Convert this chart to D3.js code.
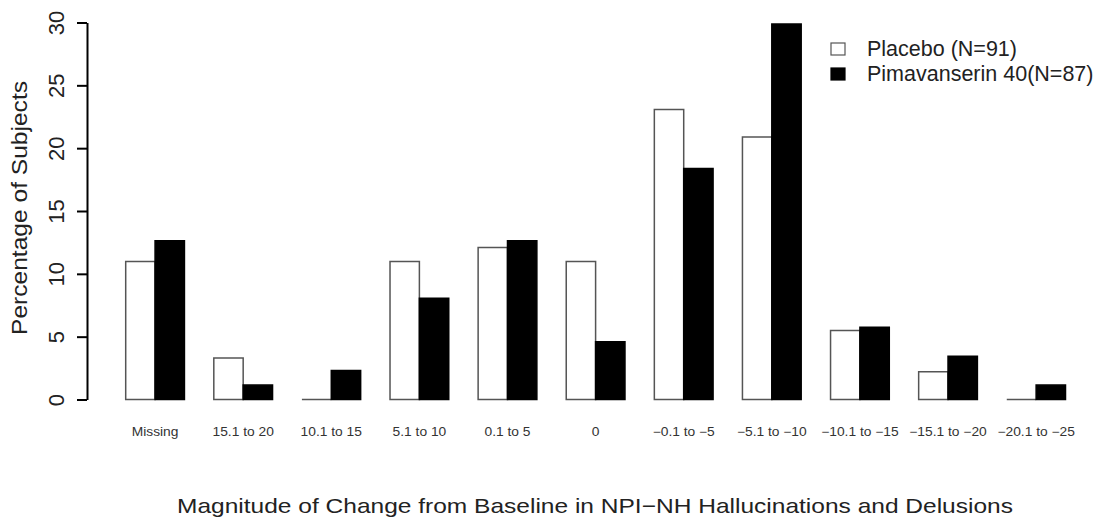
<!DOCTYPE html>
<html>
<head>
<meta charset="utf-8">
<script src="https://cdn.jsdelivr.net/npm/d3@7/dist/d3.min.js"></script>
<style>
  html, body { margin: 0; padding: 0; background: #fff; }
  svg { display: block; font-family: "Liberation Sans", Arial, Helvetica, sans-serif; }
</style>
</head>
<body>
<svg id="chart" width="1097" height="519"></svg>
<script>
// ---- Data ----
const categories = ["Missing", "15.1 to 20", "10.1 to 15", "5.1 to 10", "0.1 to 5", "0",
  "\u22120.1 to \u22125", "\u22125.1 to \u221210", "\u221210.1 to \u221215",
  "\u221215.1 to \u221220", "\u221220.1 to \u221225"];
const seriesNames = ["Placebo (N=91)", "Pimavanserin 40(N=87)"];
const placebo = [10.99, 3.30, 0, 10.99, 12.09, 10.99, 23.08, 20.88, 5.49, 2.20, 0];
const pimavanserin = [12.64, 1.15, 2.30, 8.05, 12.64, 4.60, 18.39, 29.89, 5.75, 3.45, 1.15];
const yTicks = [0, 5, 10, 15, 20, 25, 30];
const xTitle = "Magnitude of Change from Baseline in NPI\u2212NH Hallucinations and Delusions";
const yTitle = "Percentage of Subjects";

const seriesValues = [placebo, pimavanserin];
const fills = ["#ffffff", "#000000"];
const strokes = ["#555555", "#000000"];

const svg = d3.select("#chart");

// ---- Scales ----
const x0 = d3.scaleBand().domain(categories).range([125.7, 1065.5])
  .paddingInner(1 / 3).paddingOuter(0);
const x1 = d3.scaleBand().domain(seriesNames).range([0, x0.bandwidth()]).padding(0);
const y = d3.scaleLinear().domain([0, 30]).range([399.5, 22.5]);

// ---- Bars (paths so that zero-height bars still show their outline) ----
const rows = categories.map((c, i) => ({ cat: c, vals: seriesNames.map((s, j) => ({ s, j, v: seriesValues[j][i] })) }));
const groups = svg.append("g").selectAll("g").data(rows).join("g")
  .attr("transform", d => `translate(${x0(d.cat)},0)`);
groups.selectAll("path").data(d => d.vals).join("path")
  .attr("d", d => {
    const xa = x1(d.s), xb = xa + x1.bandwidth();
    const p = d3.path();
    p.moveTo(xa, y(0));
    p.lineTo(xa, y(d.v));
    p.lineTo(xb, y(d.v));
    p.lineTo(xb, y(0));
    p.closePath();
    return p.toString();
  })
  .attr("fill", d => fills[d.j])
  .attr("stroke", d => strokes[d.j])
  .attr("stroke-width", 1.5);

// ---- Y axis ----
const yAxis = svg.append("g").attr("transform", "translate(87,0)")
  .call(d3.axisLeft(y).tickValues(yTicks).tickSize(10).tickSizeOuter(0));
yAxis.select(".domain").attr("stroke", "#000").attr("stroke-width", 2);
yAxis.selectAll(".tick line").attr("stroke", "#000").attr("stroke-width", 2);
yAxis.selectAll(".tick text")
  .attr("x", null).attr("y", null).attr("dy", null)
  .attr("transform", "translate(-23,0) rotate(-90)")
  .attr("text-anchor", "middle")
  .attr("font-size", 22)
  .attr("font-family", "Liberation Sans, Arial, sans-serif")
  .attr("fill", "#222");

// ---- X axis labels ----
const xAxis = svg.append("g").attr("transform", `translate(0,${y(0)})`)
  .call(d3.axisBottom(x0).tickSize(0));
xAxis.select(".domain").remove();
xAxis.selectAll(".tick text")
  .attr("y", 36.5).attr("dy", null)
  .attr("transform", "scale(1.15,1)")
  .attr("font-size", 12)
  .attr("font-family", "Liberation Sans, Arial, sans-serif")
  .attr("fill", "#333");

// ---- Titles ----
svg.append("text")
  .attr("x", 177).attr("y", 513)
  .attr("font-size", 21)
  .attr("textLength", 836).attr("lengthAdjust", "spacingAndGlyphs")
  .attr("fill", "#222")
  .text(xTitle);

svg.append("text")
  .attr("transform", "translate(27,208) rotate(-90)")
  .attr("text-anchor", "middle")
  .attr("font-size", 22)
  .attr("textLength", 254).attr("lengthAdjust", "spacingAndGlyphs")
  .attr("fill", "#222")
  .text(yTitle);

// ---- Legend ----
const legend = svg.append("g").attr("transform", "translate(831,43)");
const li = legend.selectAll("g").data(seriesNames).join("g")
  .attr("transform", (d, i) => `translate(0,${i * 25})`);
li.append("rect")
  .attr("width", 14).attr("height", 12)
  .attr("fill", (d, i) => fills[i])
  .attr("stroke", (d, i) => strokes[i])
  .attr("stroke-width", 1.2);
li.append("text")
  .attr("x", 36).attr("y", 13)
  .attr("font-size", 21.5)
  .attr("fill", "#222")
  .text(d => d);
</script>
</body>
</html>
